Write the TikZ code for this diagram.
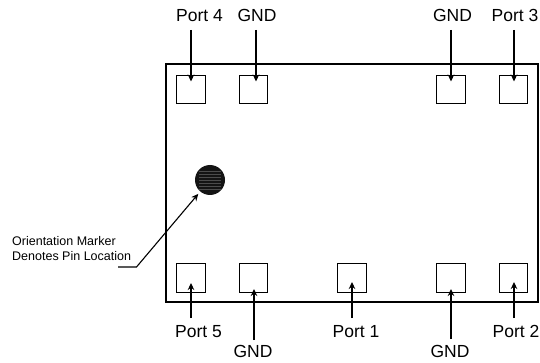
\documentclass[tikz,border=0pt]{standalone}
\usepackage{fontspec}
\setmainfont{Liberation Sans}
\usetikzlibrary{arrows.meta}
\tikzset{
    pad/.style={draw, line width=1pt, minimum size=28.4pt, inner sep=0pt},
    portlabel/.style={anchor=base, inner sep=0pt, font=\fontsize{17.5}{20}\selectfont},
    pinarrow/.style={line width=1.1pt, -{Stealth[length=7pt,width=6.5pt]}}
}

\begin{document}
\begin{tikzpicture}[x=1pt, y=-1pt]
            \useasboundingbox (0, 0) rectangle (540, 363);

            % package outline
            \draw[line width=1.6pt] (166, 64) rectangle (538, 302);

            % pads along the top
            \node[pad] (padPortFour) at (191, 89.5) {};
            \node[pad] (padGndA) at (253.5, 89.5) {};
            \node[pad] (padGndB) at (451, 89.5) {};
            \node[pad] (padPortThree) at (513.5, 89.5) {};

            % pads along the bottom
            \node[pad] (padPortFive) at (191, 278) {};
            \node[pad] (padGndC) at (253.5, 278) {};
            \node[pad] (padPortOne) at (352, 278) {};
            \node[pad] (padGndD) at (451, 278) {};
            \node[pad] (padPortTwo) at (513.5, 278) {};

            % labels
            \node[portlabel] (lblPortFour) at (199.5, 21.7) {Port 4};
            \node[portlabel] (lblGndA) at (257, 21.7) {GND};
            \node[portlabel] (lblGndB) at (452.5, 21.7) {GND};
            \node[portlabel] (lblPortThree) at (515, 21.7) {Port 3};
            \node[portlabel] (lblPortFive) at (198.5, 337) {Port 5};
            \node[portlabel] (lblGndC) at (253, 357.5) {GND};
            \node[portlabel] (lblPortOne) at (356, 337) {Port 1};
            \node[portlabel] (lblGndD) at (450, 357.5) {GND};
            \node[portlabel] (lblPortTwo) at (516, 337) {Port 2};

            % free ends of the arrows
            \coordinate (tailPortFour) at (191, 30);
            \coordinate (tailGndA) at (256, 30);
            \coordinate (tailGndB) at (451, 30);
            \coordinate (tailPortThree) at (514, 30);
            \coordinate (tailPortFive) at (191, 318);
            \coordinate (tailGndC) at (254, 340);
            \coordinate (tailPortOne) at (352, 318);
            \coordinate (tailGndD) at (451, 339);
            \coordinate (tailPortTwo) at (514, 318);

            \draw[pinarrow] (tailPortFour) -- ([yshift=8pt]padPortFour.center);
            \draw[pinarrow] (tailGndA) -- ([xshift=2.5pt, yshift=8pt]padGndA.center);
            \draw[pinarrow] (tailGndB) -- ([yshift=8pt]padGndB.center);
            \draw[pinarrow] (tailPortThree) -- ([xshift=0.5pt, yshift=8pt]padPortThree.center);
            \draw[pinarrow] (tailPortFive) -- ([yshift=-5pt]padPortFive.center);
            \draw[pinarrow] (tailGndC) -- ([xshift=0.5pt, yshift=-11pt]padGndC.center);
            \draw[pinarrow] (tailPortOne) -- ([yshift=-4pt]padPortOne.center);
            \draw[pinarrow] (tailGndD) -- ([yshift=-11pt]padGndD.center);
            \draw[pinarrow] (tailPortTwo) -- ([xshift=0.5pt, yshift=-4pt]padPortTwo.center);

            % orientation marker
            \node[circle, fill=black!92, minimum size=30pt, inner sep=0pt] (marker) at (210, 180) {};
            \foreach \y in {-9, -6, -3, 0, 3, 6, 9} {
                \draw[black!70, line width=0.25pt] ([shift={(-11, \y)}]marker.center) -- ([shift={(11, \y)}]marker.center);
            }
            \node[anchor=west, align=left, inner sep=0pt, font=\fontsize{12.5}{15}\selectfont] (lblMarker) at (12, 249) {Orientation Marker\\Denotes Pin Location};
            \coordinate (leaderEnd) at (118, 267);
            \draw[pinarrow, shorten >=3pt] (leaderEnd) -- (136.5, 267) -- (marker);
        \end{tikzpicture}
\end{document}
